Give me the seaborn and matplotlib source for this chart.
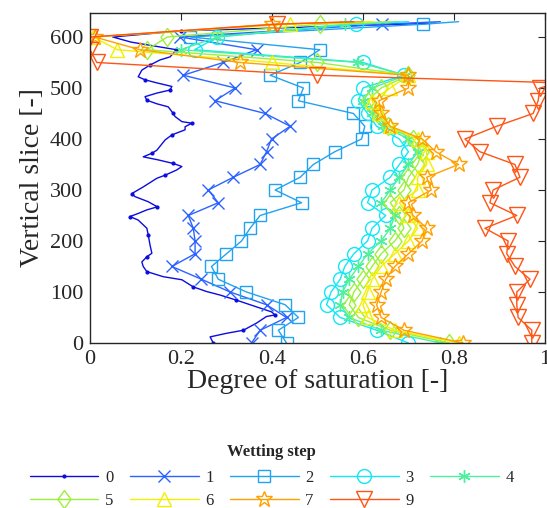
import matplotlib
matplotlib.use("Agg")
import matplotlib.pyplot as plt
import seaborn as sns
import numpy as np
from matplotlib.lines import Line2D
from matplotlib.path import Path

sns.set_theme(style="white")
plt.rcParams['font.family'] = ['Liberation Serif', 'DejaVu Serif']

# ---------------- data ----------------
steps = ["0", "1", "2", "3", "4", "5", "6", "7", "9"]
colors = ["#0c0ce0", "#2b63ff", "#22a3f0", "#10e8f8", "#4ef0a0",
          "#9cf03c", "#f0f000", "#ffa000", "#ff5414"]

slice_0 = [0, 12, 19, 25, 39, 52, 55, 61, 75, 84, 94, 101, 110, 124, 130, 140, 150, 159,
           169, 176, 192, 212, 225, 241, 248, 254, 261, 267, 277, 287, 293, 306, 323, 329,
           339, 346, 352, 359, 365, 372, 378, 398, 408, 418, 424, 431, 434, 444, 450, 463,
           469, 476, 483, 490, 496, 503, 510, 516, 522, 535, 545, 555, 561, 575, 590, 600,
           612, 627]
sat_0 = [0.271, 0.264, 0.300, 0.337, 0.366, 0.388, 0.407, 0.399, 0.352, 0.322, 0.286,
         0.256, 0.227, 0.202, 0.161, 0.125, 0.117, 0.114, 0.125, 0.136, 0.132, 0.128,
         0.125, 0.106, 0.088, 0.106, 0.125, 0.148, 0.128, 0.099, 0.092, 0.117, 0.147,
         0.165, 0.190, 0.202, 0.183, 0.150, 0.117, 0.136, 0.147, 0.165, 0.180, 0.209,
         0.209, 0.224, 0.202, 0.187, 0.183, 0.172, 0.147, 0.125, 0.121, 0.147, 0.176,
         0.180, 0.147, 0.121, 0.106, 0.114, 0.132, 0.154, 0.176, 0.19, 0.09, 0.05,
         0.20, 0.76]

slice_std = [0, 25, 50, 75, 100, 125, 150, 175, 200, 225, 250, 275, 300, 325, 350,
             375, 400, 425, 450, 475, 500, 525, 550, 575, 600, 625, 630]

sat_1 = [0.355, 0.374, 0.432, 0.388, 0.308, 0.245, 0.180, 0.231, 0.231, 0.227, 0.216,
         0.282, 0.260, 0.315, 0.374, 0.388, 0.399, 0.440, 0.385, 0.275, 0.319, 0.205,
         0.293, 0.366, 0.198, 0.641, 0.77]
sat_2 = [0.432, 0.414, 0.458, 0.429, 0.344, 0.282, 0.267, 0.300, 0.333, 0.352, 0.374,
         0.465, 0.407, 0.462, 0.491, 0.538, 0.597, 0.604, 0.579, 0.458, 0.469, 0.396,
         0.462, 0.505, 0.220, 0.733, 0.81]
sat_3 = [0.70, 0.63, 0.55, 0.52, 0.53, 0.55, 0.56, 0.58, 0.61, 0.62, 0.65, 0.61, 0.62,
         0.66, 0.68, 0.70, 0.68, 0.63, 0.61, 0.59, 0.60, 0.69, 0.60, 0.23, 0.28, 0.585,
         0.70]
sat_4 = [0.77, 0.64, 0.57, 0.55, 0.555, 0.57, 0.59, 0.61, 0.64, 0.66, 0.67, 0.64, 0.66,
         0.68, 0.70, 0.72, 0.70, 0.645, 0.62, 0.60, 0.62, 0.695, 0.59, 0.20, 0.28, 0.56,
         0.68]
sat_5 = [0.79, 0.66, 0.59, 0.57, 0.58, 0.60, 0.62, 0.64, 0.67, 0.69, 0.68, 0.66, 0.69,
         0.70, 0.72, 0.73, 0.71, 0.655, 0.63, 0.61, 0.64, 0.70, 0.50, 0.125, 0.17, 0.505,
         0.66]
sat_6 = [0.81, 0.67, 0.61, 0.60, 0.61, 0.62, 0.64, 0.67, 0.70, 0.72, 0.70, 0.68, 0.72,
         0.72, 0.74, 0.74, 0.72, 0.66, 0.635, 0.62, 0.66, 0.70, 0.40, 0.06, 0.007, 0.44,
         0.62]
sat_7 = [0.82, 0.69, 0.64, 0.63, 0.64, 0.65, 0.67, 0.70, 0.73, 0.74, 0.71, 0.70, 0.75,
         0.74, 0.81, 0.76, 0.73, 0.66, 0.64, 0.635, 0.70, 0.70, 0.33, 0.11, 0.01, 0.40,
         0.60]
slice_9 = [0, 25, 50, 75, 100, 125, 150, 175, 200, 225, 250, 275, 300, 325, 350,
           375, 400, 425, 450, 475, 500, 510, 525, 550, 575, 600, 625, 630]
sat_9 = [0.971, 0.971, 0.941, 0.938, 0.938, 0.967, 0.934, 0.916, 0.919, 0.868, 0.938,
         0.879, 0.886, 0.945, 0.934, 0.857, 0.824, 0.894, 0.974, 0.985, 0.989, 1.03,
         0.50, 0.015, 0.0, 0.0, 0.41, 0.58]

series = [(slice_0, sat_0), (slice_std, sat_1), (slice_std, sat_2), (slice_std, sat_3),
          (slice_std, sat_4), (slice_std, sat_5), (slice_std, sat_6), (slice_std, sat_7),
          (slice_9, sat_9)]

# ---------------- styles ----------------
diamond = Path([(0, 1), (0.72, 0), (0, -1), (-0.72, 0), (0, 1)],
               [Path.MOVETO, Path.LINETO, Path.LINETO, Path.LINETO, Path.CLOSEPOLY])
markers = ['.', 'x', 's', 'o', (6, 2, 0), diamond, '^', '*', 'v']
msizes = [4, 8, 8, 10, 9, 13, 10, 12, 11]

fig = plt.figure(figsize=(5.47, 5.08), dpi=100)
ax = fig.add_axes([0.1645, 0.3248, 0.8318, 0.6496])

handles = []
for i, (ys, xs) in enumerate(series):
    if i == 0:
        mevery = list(range(0, len(ys), 3))
    else:
        mevery = [k for k, v in enumerate(ys) if v % 25 == 0 and v != 630]
    sns.lineplot(x=xs, y=ys, sort=False, estimator=None, ax=ax, color=colors[i],
                 linewidth=1.0, marker=markers[i], markersize=msizes[i],
                 markerfacecolor=(colors[i] if i == 0 else 'none'),
                 markeredgecolor=colors[i], markeredgewidth=1.0,
                 markevery=mevery, legend=False)
    handles.append(Line2D([], [], color=colors[i], linewidth=1.0, marker=markers[i],
                          markersize=msizes[i],
                          markerfacecolor=(colors[i] if i == 0 else 'none'),
                          markeredgecolor=colors[i], markeredgewidth=1.0,
                          label=steps[i]))

ax.set_xlim(0, 1)
ax.set_ylim(0, 647)
ax.set_xticks([0, 0.2, 0.4, 0.6, 0.8, 1.0])
ax.set_xticklabels(["0", "0.2", "0.4", "0.6", "0.8", "1"])
ax.set_yticks([0, 100, 200, 300, 400, 500, 600])
ax.tick_params(direction='in', top=True, right=True, length=5, width=0.8,
               labelsize=16, colors='#262626', pad=5)
for s in ax.spines.values():
    s.set_color('#262626')
    s.set_linewidth(1.0)
ax.set_xlabel("Degree of saturation [-]", fontsize=20, color='#262626', labelpad=0)
ax.set_ylabel("Vertical slice [-]", fontsize=20, color='#262626', labelpad=3)

# row-wise legend order (matplotlib fills column-wise)
order = [0, 5, 1, 6, 2, 7, 3, 8, 4]
leg = fig.legend(handles=[handles[k] for k in order], loc='upper center',
                 bbox_to_anchor=(0.497, 0.156),
                 ncol=5, frameon=False, fontsize=12, handlelength=4.1,
                 handletextpad=0.4, columnspacing=1.0, labelspacing=0.4,
                 title="Wetting step",
                 title_fontproperties={'weight': 'bold', 'size': 12})
leg._legend_box.sep = 7.5

fig.savefig("out.png", dpi=100)
